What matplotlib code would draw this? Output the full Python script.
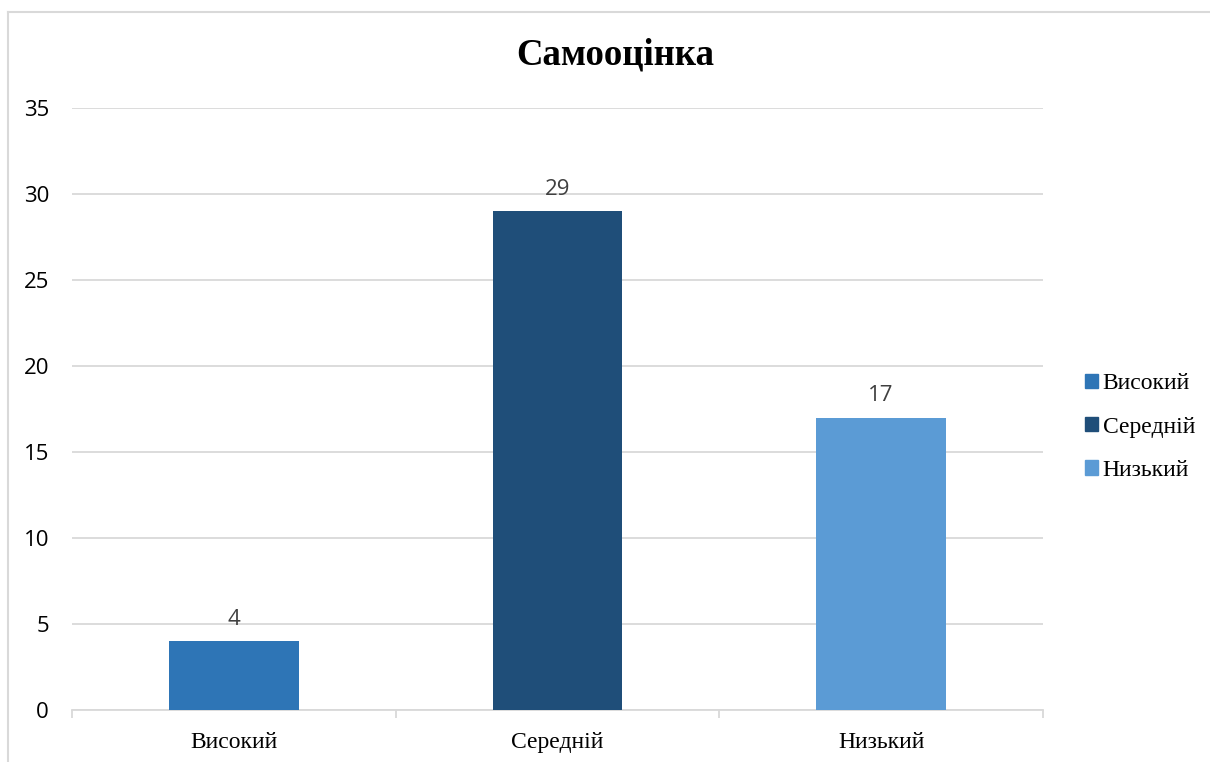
import matplotlib
matplotlib.use("Agg")
import matplotlib.pyplot as plt
from matplotlib.patches import Rectangle
from matplotlib.lines import Line2D

categories = ["Високий", "Середній", "Низький"]
values = [4, 29, 17]
colors = ["#2E75B6", "#1F4E79", "#5B9BD5"]
yticks = [0, 5, 10, 15, 20, 25, 30, 35]
title = "Самооцінка"

W, H = 1210, 762
fig = plt.figure(figsize=(W / 100, H / 100), dpi=100)
fig.patch.set_facecolor("white")

# outer chart frame (top and left edges visible)
fig.add_artist(Line2D([8 / W, 1.0], [1 - 12 / H, 1 - 12 / H], color="#D9D9D9", lw=1.5))
fig.add_artist(Line2D([8 / W, 8 / W], [1 - 12 / H, 0.0], color="#D9D9D9", lw=1.5))

left, right = 72, 1043
top, bottom = 108, 710
ax = fig.add_axes([left / W, 1 - bottom / H, (right - left) / W, (bottom - top) / H])

x = list(range(len(categories)))
bars = ax.bar(x, values, width=0.4, color=colors, zorder=3)

ax.set_xlim(-0.5, len(categories) - 0.5)
ax.set_ylim(0, 35)
ax.set_yticks(yticks)
ax.set_yticklabels([str(t) for t in yticks], fontsize=16, family="Open Sans", color="black")
ax.yaxis.grid(True, color="#D9D9D9", lw=1.3, zorder=0)
ax.tick_params(axis="y", length=0, pad=16.5)

for s in ["top", "right", "left"]:
    ax.spines[s].set_visible(False)
ax.spines["bottom"].set_color("#D9D9D9")
ax.spines["bottom"].set_linewidth(1.3)

# category dividers on the x axis
ax.set_xticks([i - 0.5 for i in range(len(categories) + 1)], minor=True)
ax.tick_params(axis="x", which="minor", length=6, color="#D9D9D9", width=1.3)
ax.set_xticks(x)
ax.set_xticklabels(categories, fontsize=17, family="Liberation Serif", color="black")
ax.tick_params(axis="x", which="major", length=0, pad=16)

for xi, v in zip(x, values):
    ax.annotate(str(v), (xi, v), xytext=(0, 12), textcoords="offset points",
                ha="center", va="baseline", fontsize=16, family="Open Sans", color="#404040")

fig.text(615 / W, 1 - 55 / H, title, ha="center", va="center", fontsize=26.6,
         fontweight="bold", family="Liberation Serif")

handles = [Rectangle((0, 0), 1, 1, color=c) for c in colors]
fig.legend(handles, categories, loc="center left", bbox_to_anchor=(1085 / W, 1 - 427 / H),
           frameon=False, prop={"family": "Liberation Serif", "size": 17},
           handlelength=0.55, handleheight=0.55, handletextpad=0.2, labelspacing=0.95,
           borderpad=0, borderaxespad=0)

fig.savefig("out.png", dpi=100, facecolor="white")
